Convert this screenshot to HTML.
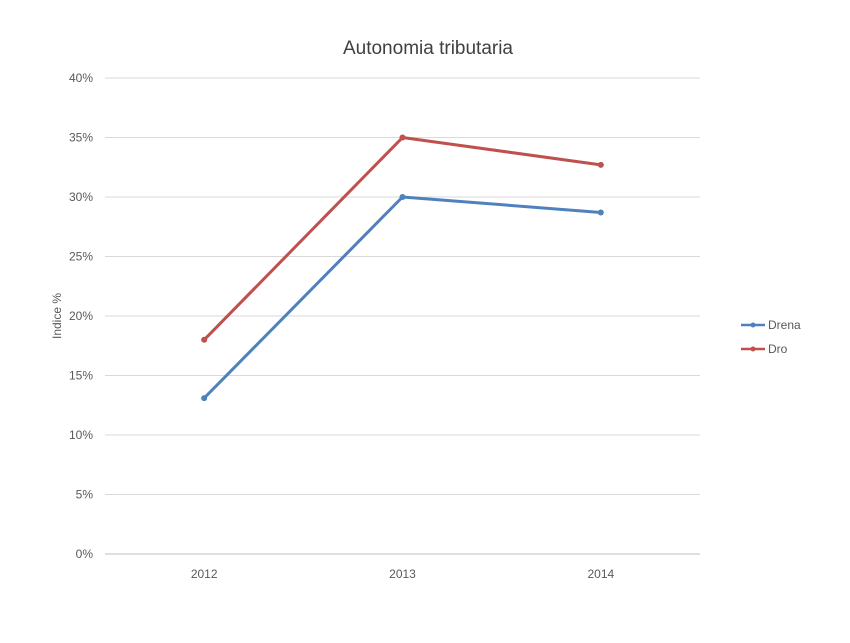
<!DOCTYPE html>
<html><head><meta charset="utf-8"><style>
body{margin:0;background:#fff;}
svg text{font-family:"Liberation Sans",sans-serif;fill:#595959;}
</style></head><body>
<svg width="850" height="638" xmlns="http://www.w3.org/2000/svg">
<text x="428" y="54" text-anchor="middle" font-size="19" style="fill:#404040">Autonomia tributaria</text>
<text transform="translate(61,316) rotate(-90)" text-anchor="middle" font-size="12">Indice %</text>
<g id="grid"></g><g id="series"></g>
<g>
<g>
<line x1="741" y1="325" x2="765" y2="325" stroke="#4f81bd" stroke-width="2.5"/><circle cx="753" cy="325" r="2.5" fill="#4f81bd"/>
<text x="768" y="329" font-size="12">Drena</text></g>
<g>
<line x1="741" y1="349" x2="765" y2="349" stroke="#c0504d" stroke-width="2.5"/><circle cx="753" cy="349" r="2.5" fill="#c0504d"/>
<text x="768" y="353" font-size="12">Dro</text></g>
</g>
</svg>
<script>
const categories=["2012","2013","2014"];
const drena=[13.1,30.0,28.7];
const dro=[18.0,35.0,32.7];
const yTicks=[0,5,10,15,20,25,30,35,40];
const ns="http://www.w3.org/2000/svg";
const x0=105,x1=700,yB=554,yT=78,yMax=40;
const y=v=>yB-(v/yMax)*(yB-yT);
const bw=(x1-x0)/categories.length;
const x=i=>x0+bw*(i+0.5);
function mk(t,a,p){const e=document.createElementNS(ns,t);for(const k in a)e.setAttribute(k,a[k]);p.appendChild(e);return e;}
const g=document.getElementById('grid');
yTicks.forEach(v=>{
const l=mk('line',{x1:x0,x2:x1,y1:y(v),y2:y(v),stroke:v===0?'#bfbfbf':'#d9d9d9','stroke-width':1},g);


const t=mk('text',{x:93,y:y(v)+4,'text-anchor':'end','font-size':12},g);t.textContent=v+'%';


});
categories.forEach((c,i)=>{
const t=mk('text',{x:x(i),y:578,'text-anchor':'middle','font-size':12},g);t.textContent=c;


});
const s=document.getElementById('series');
[[drena,'#4f81bd','drena'],[dro,'#c0504d','dro']].forEach(([d,col,n])=>{
const p=mk('polyline',{points:d.map((v,i)=>x(i)+','+y(v)).join(' '),fill:'none',stroke:col,'stroke-width':3,'stroke-linejoin':'round'},s);


d.forEach((v,i)=>{const c=mk('circle',{cx:x(i),cy:y(v),r:3,fill:col},s);

});
});
</script>
</body></html>
